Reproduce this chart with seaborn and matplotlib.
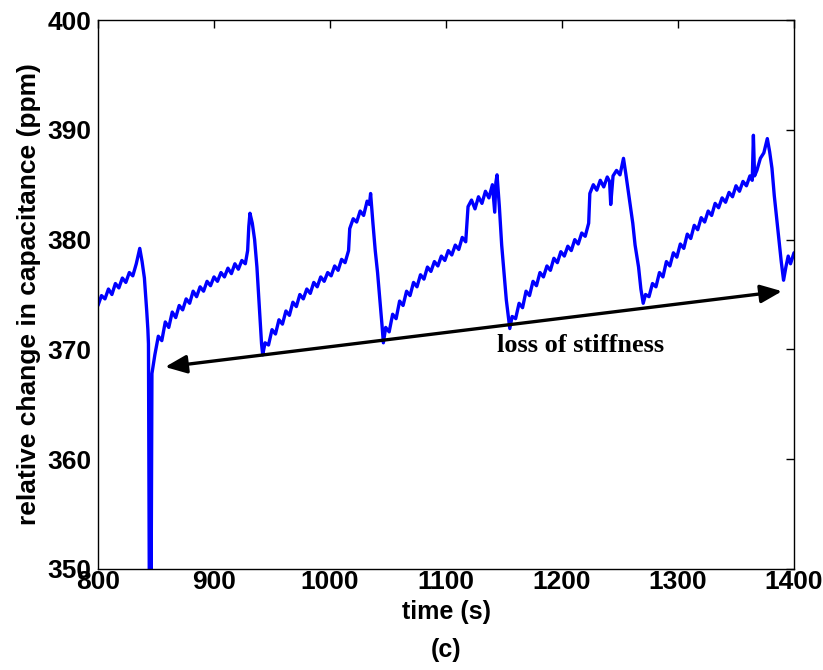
import numpy as np
import pandas as pd
import matplotlib
matplotlib.use("Agg")
import matplotlib.pyplot as plt
import seaborn as sns

time_s = [
    800, 803, 806, 809, 812, 815, 818, 821, 824, 827, 830, 833, 836, 838,
    840, 842, 843, 843.5, 844.5, 845.0, 845.5, 846.5,
    849, 852, 855, 858, 861, 864, 867, 870, 873, 876, 879, 882, 885, 888, 891, 894, 897,
    900, 903, 906, 909, 912, 915, 918, 921, 924, 927, 929, 930, 931, 933, 935, 937, 939, 941, 942,
    944, 947, 950, 953, 956, 959, 962, 965, 968, 971, 974, 977, 980, 983, 986, 989, 992, 995, 998,
    1001, 1004, 1007, 1010, 1013, 1016, 1017, 1020, 1023, 1026, 1029, 1032, 1034, 1035, 1037, 1039,
    1041, 1043, 1045, 1046,
    1048, 1051, 1054, 1057, 1060, 1063, 1066, 1069, 1072, 1075, 1078, 1081, 1084, 1087, 1090, 1093,
    1096, 1099, 1102, 1105, 1108, 1111, 1114, 1117, 1119, 1122, 1125, 1128, 1131, 1134, 1137, 1140,
    1142, 1143, 1144, 1146, 1148, 1150, 1152, 1154, 1155,
    1157, 1160, 1163, 1166, 1169, 1172, 1175, 1178, 1181, 1184, 1187, 1190, 1193, 1196, 1199, 1202,
    1205, 1208, 1211, 1214, 1217, 1220, 1223, 1224, 1227, 1230, 1233, 1236, 1239, 1241, 1242, 1244,
    1247, 1250, 1253, 1255, 1257, 1259, 1261, 1263, 1266, 1268, 1270,
    1272, 1275, 1278, 1281, 1284, 1287, 1290, 1293, 1296, 1299, 1302, 1305, 1308, 1311, 1314, 1317,
    1320, 1323, 1326, 1329, 1332, 1335, 1338, 1341, 1344, 1347, 1350, 1353, 1356, 1359, 1362, 1364,
    1365, 1366, 1368, 1371, 1374, 1377, 1379, 1381, 1383, 1385, 1387, 1389, 1391, 1393, 1395, 1397, 1400,
]

capacitance_ppm = [
    374.0, 374.9, 374.6, 375.5, 375.0, 376.0, 375.6, 376.5, 376.1, 377.0, 376.7, 377.8, 379.2, 378.0,
    376.5, 373.5, 371.8, 370.5, 340.0, 360.3, 340.0, 367.8,
    369.5, 371.2, 370.8, 372.5, 372.0, 373.4, 372.9, 374.0, 373.6, 374.6, 374.2, 375.3, 374.8, 375.7, 375.3, 376.2, 375.8,
    376.6, 376.2, 377.0, 376.6, 377.4, 376.9, 377.8, 377.3, 378.1, 377.8, 379.0, 381.2, 382.4, 381.5, 380.0, 377.5, 374.0, 370.5, 369.5,
    370.6, 370.4, 371.8, 371.4, 372.7, 372.3, 373.5, 373.1, 374.3, 373.9, 375.0, 374.6, 375.5, 375.1, 376.1, 375.7, 376.6, 376.2, 377.0,
    376.7, 377.6, 377.2, 378.2, 377.9, 379.0, 381.0, 381.9, 381.6, 382.6, 382.2, 383.5, 383.2, 384.2, 381.5, 379.0,
    377.0, 374.5, 372.0, 370.6,
    372.0, 371.6, 373.2, 372.8, 374.4, 374.0, 375.3, 374.9, 376.1, 375.7, 376.8, 376.4, 377.5, 377.1, 378.0, 377.6,
    378.5, 378.1, 379.0, 378.6, 379.5, 379.1, 380.2, 379.8, 383.0, 383.6, 382.8, 383.9, 383.3, 384.4, 383.8, 385.0,
    382.5, 385.2, 385.9, 383.0, 379.5, 377.0, 374.5, 372.8, 371.9,
    373.0, 372.8, 374.2, 373.8, 375.3, 374.9, 376.2, 375.8, 377.0, 376.6, 377.6, 377.2, 378.3, 377.9, 378.9, 378.5,
    379.4, 379.0, 380.0, 379.6, 380.6, 380.3, 381.5, 384.2, 385.0, 384.5, 385.4, 384.8, 385.7, 385.3, 383.2, 385.8,
    386.3, 385.9, 387.4, 386.0, 384.5, 383.0, 381.5, 379.5, 377.5, 375.5, 374.2,
    375.0, 374.8, 376.0, 375.7, 377.0, 376.6, 378.0, 377.6, 378.8, 378.4, 379.6, 379.2, 380.5, 380.1, 381.3, 380.9,
    382.0, 381.6, 382.6, 382.2, 383.3, 382.9, 383.8, 383.4, 384.3, 383.9, 384.9, 384.4, 385.3, 384.9, 385.8, 385.4,
    389.5, 385.8, 386.3, 387.4, 387.9, 389.2, 388.0, 386.5, 384.0, 382.0, 380.0, 378.0, 376.3, 377.5, 378.5, 377.8, 378.8,
]

x_ticks = [800, 900, 1000, 1100, 1200, 1300, 1400]
y_ticks = [350, 360, 370, 380, 390, 400]
arrow_left = (857.8, 368.4)
arrow_right = (1389.7, 375.3)
annotation_text = "loss of stiffness"

df = pd.DataFrame({"time": time_s, "cap": capacitance_ppm})

sns.set_style("white")
plt.rcParams["font.family"] = ["Liberation Sans", "DejaVu Sans"]
plt.rcParams["text.color"] = "black"
plt.rcParams["axes.labelcolor"] = "black"

fig = plt.figure(figsize=(8.23, 6.70), dpi=100)
ax = fig.add_axes([98 / 823, 1 - 569 / 670, (794 - 98) / 823, (569 - 20) / 670])

sns.lineplot(data=df, x="time", y="cap", ax=ax, color="#0000ff", linewidth=2.4,
             estimator=None, sort=False)

ax.set_xlim(800, 1400)
ax.set_ylim(350, 400)
ax.set_xticks(x_ticks)
ax.set_yticks(y_ticks)
ax.set_xticklabels([str(v) for v in x_ticks], fontsize=19, fontweight="bold")
ax.set_yticklabels([str(v) for v in y_ticks], fontsize=19, fontweight="bold")
ax.tick_params(direction="in", top=True, right=True, length=6, width=1, colors="black",
               labelcolor="black")
ax.tick_params(axis="x", pad=1)
ax.tick_params(axis="y", pad=5)
for s in ax.spines.values():
    s.set_color("black")
    s.set_linewidth(1.0)

ax.set_xlabel("time (s)", fontsize=18, fontweight="bold", labelpad=4, color="black")
ax.set_ylabel("relative change in capacitance (ppm)", fontsize=19, fontweight="bold",
              labelpad=4, color="black")

ax.annotate("", xy=arrow_left, xytext=arrow_right,
            arrowprops=dict(arrowstyle="<|-|>,head_length=1.3,head_width=0.55", color="black",
                            lw=2.4, shrinkA=0, shrinkB=0))
ax.text(1216, 370.4, annotation_text, ha="center", va="center", fontsize=19, fontweight="bold",
        color="black", family=["Liberation Serif", "DejaVu Serif"])

fig.text(446 / 823, 1 - 650 / 670, "(c)", ha="center", va="center", fontsize=18,
         fontweight="bold", color="black")

fig.savefig("out.png", dpi=100, facecolor="white")
